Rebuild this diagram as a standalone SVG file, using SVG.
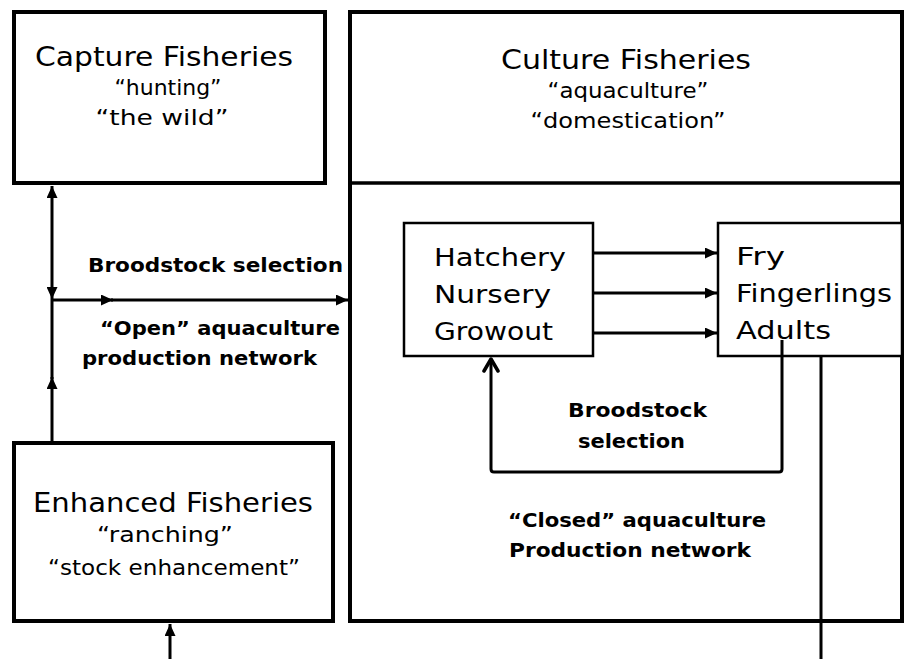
<svg xmlns="http://www.w3.org/2000/svg" width="912" height="659" viewBox="0 0 912 659">
<style>
.box{fill:#fff;stroke:#000;stroke-width:4}
.inner{fill:#fff;stroke:#000;stroke-width:2.5}
.ln{fill:none;stroke:#000;stroke-width:3}
.t{font-family:"DejaVu Sans",sans-serif;fill:#000}
.title{font-size:27px}
.sub{font-size:22px}
.lst{font-size:25px}
.b{font-family:"DejaVu Sans",sans-serif;font-weight:bold;font-size:20px;fill:#000}
</style>
<defs>
<marker id="tri" markerUnits="userSpaceOnUse" viewBox="0 0 12 11" refX="12" refY="5.5" markerWidth="12" markerHeight="11" orient="auto">
<path d="M0,0 L12,5.5 L0,11 z" fill="#000"/>
</marker>
<marker id="tri-start" markerUnits="userSpaceOnUse" viewBox="0 0 12 11" refX="0" refY="5.5" markerWidth="12" markerHeight="11" orient="auto">
<path d="M12,0 L0,5.5 L12,11 z" fill="#000"/>
</marker>
<marker id="chev" markerUnits="userSpaceOnUse" viewBox="0 0 16 18" refX="14" refY="9" markerWidth="16" markerHeight="18" orient="auto">
<path d="M2,2 L14,9 L2,16" fill="none" stroke="#000" stroke-width="3.5" stroke-linecap="round" stroke-linejoin="round"/>
</marker>
</defs>

<g id="culture">
<rect class="box" x="350" y="12" width="552" height="609"/>
<line x1="350" y1="183" x2="902" y2="183" stroke="#000" stroke-width="3.5"/>
<text class="t title" x="626" y="69" text-anchor="middle" textLength="250" lengthAdjust="spacingAndGlyphs">Culture Fisheries</text>
<text class="t sub" x="628" y="98" text-anchor="middle" textLength="161" lengthAdjust="spacingAndGlyphs">“aquaculture”</text>
<text class="t sub" x="628" y="128" text-anchor="middle" textLength="195" lengthAdjust="spacingAndGlyphs">“domestication”</text>
</g>

<g id="capture">
<rect class="box" x="14" y="12" width="311" height="171"/>
<text class="t title" x="164" y="66" text-anchor="middle" textLength="258" lengthAdjust="spacingAndGlyphs">Capture Fisheries</text>
<text class="t sub" x="168" y="95" text-anchor="middle" textLength="107" lengthAdjust="spacingAndGlyphs">“hunting”</text>
<text class="t sub" x="162" y="125" text-anchor="middle" textLength="133" lengthAdjust="spacingAndGlyphs">“the wild”</text>
</g>

<g id="enhanced">
<rect class="box" x="14" y="443" width="319" height="178"/>
<text class="t title" x="173" y="512" text-anchor="middle" textLength="280" lengthAdjust="spacingAndGlyphs">Enhanced Fisheries</text>
<text class="t sub" x="165" y="542" text-anchor="middle" textLength="136" lengthAdjust="spacingAndGlyphs">“ranching”</text>
<text class="t sub" x="174" y="575" text-anchor="middle" textLength="252" lengthAdjust="spacingAndGlyphs">“stock enhancement”</text>
</g>

<g id="hatchery">
<rect class="inner" x="404" y="223" width="189" height="133"/>
<text class="t lst" x="434" y="266" textLength="132" lengthAdjust="spacingAndGlyphs">Hatchery</text>
<text class="t lst" x="434" y="303" textLength="117" lengthAdjust="spacingAndGlyphs">Nursery</text>
<text class="t lst" x="434" y="340" textLength="119" lengthAdjust="spacingAndGlyphs">Growout</text>
</g>

<g id="stages">
<rect class="inner" x="718" y="223" width="184" height="133"/>
<text class="t lst" x="736" y="265" textLength="49" lengthAdjust="spacingAndGlyphs">Fry</text>
<text class="t lst" x="736" y="302" textLength="156" lengthAdjust="spacingAndGlyphs">Fingerlings</text>
<text class="t lst" x="736" y="339" textLength="95" lengthAdjust="spacingAndGlyphs">Adults</text>
</g>

<g id="labels">
<text class="b" x="88" y="272" textLength="255" lengthAdjust="spacingAndGlyphs">Broodstock selection</text>
<text class="b" x="100" y="335" textLength="240" lengthAdjust="spacingAndGlyphs">“Open” aquaculture</text>
<text class="b" x="82" y="365" textLength="235" lengthAdjust="spacingAndGlyphs">production network</text>
<text class="b" x="568" y="417" textLength="139" lengthAdjust="spacingAndGlyphs">Broodstock</text>
<text class="b" x="578" y="448" textLength="107" lengthAdjust="spacingAndGlyphs">selection</text>
<text class="b" x="508" y="527" textLength="258" lengthAdjust="spacingAndGlyphs">“Closed” aquaculture</text>
<text class="b" x="509" y="557" textLength="242" lengthAdjust="spacingAndGlyphs">Production network</text>
</g>

<g id="connectors">
<line class="ln" x1="52" y1="186" x2="52" y2="299" marker-start="url(#tri-start)" marker-end="url(#tri)"/>
<line class="ln" x1="52" y1="441" x2="52" y2="377" marker-end="url(#tri)"/>
<line class="ln" x1="52" y1="379" x2="52" y2="299"/>
<line class="ln" x1="52" y1="300" x2="113" y2="300" marker-end="url(#tri)"/>
<line class="ln" x1="111" y1="300" x2="348" y2="300" marker-end="url(#tri)"/>
<line class="ln" x1="594" y1="253" x2="717" y2="253" marker-end="url(#tri)" stroke-width="3.5"/>
<line class="ln" x1="594" y1="293" x2="717" y2="293" marker-end="url(#tri)" stroke-width="3.5"/>
<line class="ln" x1="594" y1="333" x2="717" y2="333" marker-end="url(#tri)" stroke-width="3.5"/>
<path class="ln" d="M782,340 V469 Q782,472 779,472 H494 Q491,472 491,469 V359" marker-end="url(#chev)"/>
<line class="ln" x1="821" y1="357" x2="821" y2="659"/>
<line class="ln" x1="170" y1="659" x2="170" y2="624" marker-end="url(#tri)" stroke-width="3.5"/>
</g>
</svg>
